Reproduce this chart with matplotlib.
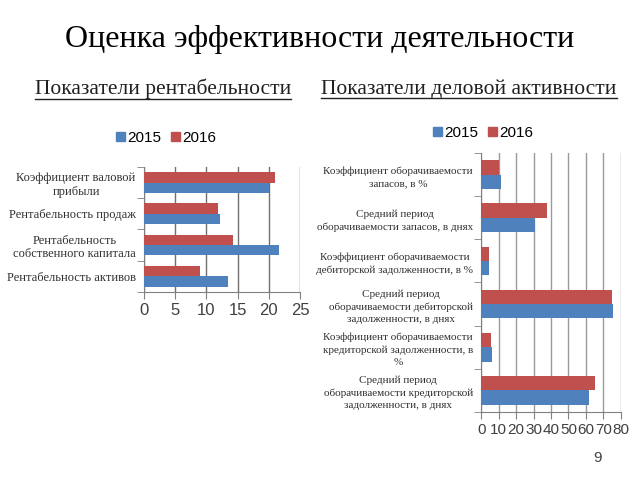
import numpy as np
import matplotlib
matplotlib.use("Agg")
import matplotlib.pyplot as plt
from matplotlib.patches import Patch
from matplotlib.lines import Line2D

# Данные (категории сверху вниз)
rent_labels = [
    "Коэффициент валовой\nприбыли",
    "Рентабельность продаж",
    "Рентабельность\nсобственного капитала",
    "Рентабельность активов",
]
rent_2015 = [20.0, 12.2, 21.6, 13.4]
rent_2016 = [21.0, 11.8, 14.2, 9.0]
rent_ticks = [0, 5, 10, 15, 20, 25]

act_labels = [
    "Коэффициент оборачиваемости\nзапасов, в %",
    "Средний период\nоборачиваемости запасов, в днях",
    "Коэффициент оборачиваемости\nдебиторской задолженности, в %",
    "Средний период\nоборачиваемости дебиторской\nзадолженности, в днях",
    "Коэффициент оборачиваемости\nкредиторской задолженности, в\n%",
    "Средний период\nоборачиваемости кредиторской\nзадолженности, в днях",
]
act_2015 = [11.2, 30.9, 4.4, 75.6, 6.1, 61.9]
act_2016 = [9.9, 37.9, 4.6, 75.0, 5.5, 65.0]
act_ticks = [0, 10, 20, 30, 40, 50, 60, 70, 80]

years = ["2015", "2016"]
c2015 = "#4F81BD"
c2016 = "#C0504D"

SERIF = "Liberation Serif"
SANS = "Liberation Sans"


def bar_chart(ax, labels, v15, v16, ticks, tick_size, lab_size, grid_col, lsp):
    n = len(labels)
    y = np.arange(n)
    h = 1 / 3
    ax.barh(y + h / 2, v15, height=h, color=c2015, zorder=3)
    ax.barh(y - h / 2, v16, height=h, color=c2016, zorder=3)
    ax.set_ylim(n - 0.5, -0.5)
    ax.set_xlim(ticks[0], ticks[-1])
    ax.set_xticks(ticks)
    ax.set_xticklabels([str(t) for t in ticks], fontsize=tick_size,
                       family=SANS, color="#404040")
    ax.set_yticks(y)
    ax.set_yticklabels(labels, fontsize=lab_size, family=SERIF,
                       color="#303030", multialignment="center",
                       linespacing=lsp)
    ax.set_yticks(np.arange(n + 1) - 0.5, minor=True)
    ax.tick_params(axis="y", which="major", length=0, pad=6)
    ax.tick_params(axis="y", which="minor", length=5, color="#808080")
    ax.tick_params(axis="x", length=5, color="#808080", pad=3)
    ax.grid(axis="x", color=grid_col, linewidth=1, zorder=0)
    for s in ["top", "right"]:
        ax.spines[s].set_visible(False)
    for s in ["left", "bottom"]:
        ax.spines[s].set_color("#808080")


fig = plt.figure(figsize=(6.4, 4.8), dpi=100)

ax1 = fig.add_axes([0.225, 0.392, 0.244, 0.26])
bar_chart(ax1, rent_labels, rent_2015, rent_2016, rent_ticks, 12, 9, "#707070", 1.2)

ax2 = fig.add_axes([0.752, 0.142, 0.218, 0.539])
bar_chart(ax2, act_labels, act_2015, act_2016, act_ticks, 11, 8, "#9A9A9A", 1.45)

handles = [Patch(color=c2015, label=years[0]), Patch(color=c2016, label=years[1])]
for xc, yc in [(166 / 640, 1 - 138 / 480), (483 / 640, 1 - 133 / 480)]:
    fig.legend(handles=handles, loc="center", bbox_to_anchor=(xc, yc), ncol=2,
               frameon=False, handlelength=0.6, handleheight=0.6,
               handletextpad=0.15, columnspacing=0.6,
               prop={"family": SANS, "size": 11})

fig.text(0.5, 1 - 40 / 480, "Оценка эффективности деятельности",
         ha="center", va="center", fontsize=23, family=SERIF)

subs = [
    fig.text(163 / 640, 1 - 89 / 480, "Показатели рентабельности",
             ha="center", va="center", fontsize=15.5, family=SERIF, color="#202020"),
    fig.text(469 / 640, 1 - 89 / 480, "Показатели деловой активности",
             ha="center", va="center", fontsize=15.5, family=SERIF, color="#202020"),
]

fig.text(598 / 640, 1 - 458 / 480, "9", ha="center", va="center",
         fontsize=11, family=SANS, color="#404040")

# подчёркивание подзаголовков
fig.canvas.draw()
r = fig.canvas.get_renderer()
for t in subs:
    bb = t.get_window_extent(r).transformed(fig.transFigure.inverted())
    yl = bb.y0 + 0.001
    fig.add_artist(Line2D([bb.x0, bb.x1], [yl, yl], color="#202020",
                          linewidth=1, transform=fig.transFigure))

fig.savefig("out.png", dpi=100)
